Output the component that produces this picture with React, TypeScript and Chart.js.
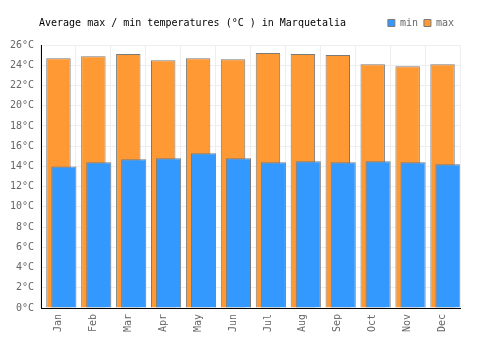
import React, { useEffect, useRef } from "react";
import { Chart, registerables } from "chart.js";

Chart.register(...registerables);

const months = ["Jan", "Feb", "Mar", "Apr", "May", "Jun", "Jul", "Aug", "Sep", "Oct", "Nov", "Dec"];
const maxTemps = [24.7, 24.9, 25.1, 24.5, 24.7, 24.6, 25.2, 25.1, 25.0, 24.1, 23.9, 24.1];
const minTemps = [14.0, 14.4, 14.7, 14.8, 15.3, 14.8, 14.4, 14.5, 14.4, 14.5, 14.4, 14.2];
const titleText = "Average max / min temperatures (°C ) in Marquetalia";

const FONT = "'DejaVu Sans Mono', monospace";

export default function App() {
  const ref = useRef<HTMLCanvasElement>(null);
  useEffect(() => {
    if (!ref.current) return;
    const shift = 0.155;
    const titlePlugin = {
      id: "customTitle",
      beforeInit(chart: any) {
        const lg = chart.legend;
        if (lg) {
          const fit = lg.fit;
          lg.fit = function () {
            fit.call(this);
            this.height += 7;
          };
        }
      },
      afterDraw(chart: any) {
        const ctx = chart.ctx;
        ctx.save();
        ctx.font = "10px " + FONT;
        ctx.fillStyle = "#000";
        ctx.textBaseline = "middle";
        ctx.textAlign = "left";
        ctx.fillText(titleText, 39, 23);
        ctx.restore();
      },
    };
    const chart = new Chart(ref.current, {
      type: "bar",
      data: {
        labels: months,
        datasets: [
          {
            label: "min",
            data: minTemps.map((v, i) => ({ x: i, y: v })),
            backgroundColor: "#3399ff",
            borderColor: "#7a7a7a",
            borderWidth: 1,
            xAxisID: "x2",
            grouped: false,
            barPercentage: 0.72,
            categoryPercentage: 1,
          } as any,
          {
            label: "max",
            data: maxTemps,
            backgroundColor: "#ff9933",
            borderColor: "#7a7a7a",
            borderWidth: 1,
            xAxisID: "x",
            grouped: false,
            barPercentage: 0.7,
            categoryPercentage: 1,
          } as any,
        ],
      },
      options: {
        animation: false,
        responsive: false,
        layout: { padding: { top: 12, right: 40, left: 0, bottom: 0 } },
        plugins: {
          title: { display: false },
          tooltip: { enabled: false },
          legend: {
            position: "top",
            align: "end",
            labels: {
              boxWidth: 7,
              boxHeight: 7,
              padding: 6,
              color: "#666",
              font: { family: FONT, size: 10 },
            },
          },
        },
        scales: {
          x: {
            type: "category",
            offset: true,
            grid: { color: "#eeeeee", drawTicks: false, offset: true },
            border: { color: "#000", width: 1 },
            ticks: {
              color: "#666",
              font: { family: FONT, size: 10 },
              minRotation: 90,
              maxRotation: 90,
              padding: 6,
            },
            afterFit(s: any) {
              s.height = 42;
            },
          },
          x2: {
            type: "linear",
            display: false,
            min: -0.5 - shift,
            max: 11.5 - shift,
            offset: false,
          },
          y: {
            min: 0,
            max: 26,
            grid: { color: "#eeeeee", drawTicks: false },
            border: { color: "#000", width: 1 },
            ticks: {
              stepSize: 2,
              color: "#666",
              padding: 7,
              font: { family: FONT, size: 10 },
              callback: (v: any) => v + "°C",
            },
            afterFit(s: any) {
              s.width = 41;
            },
          },
        },
      } as any,
      plugins: [titlePlugin],
    });
    return () => chart.destroy();
  }, []);
  return (
    <div style={{ position: "fixed", left: 0, top: 0, width: 500, height: 350, background: "#fff" }}>
      <canvas ref={ref} width={500} height={350} style={{ width: 500, height: 350 }} />
    </div>
  );
}
